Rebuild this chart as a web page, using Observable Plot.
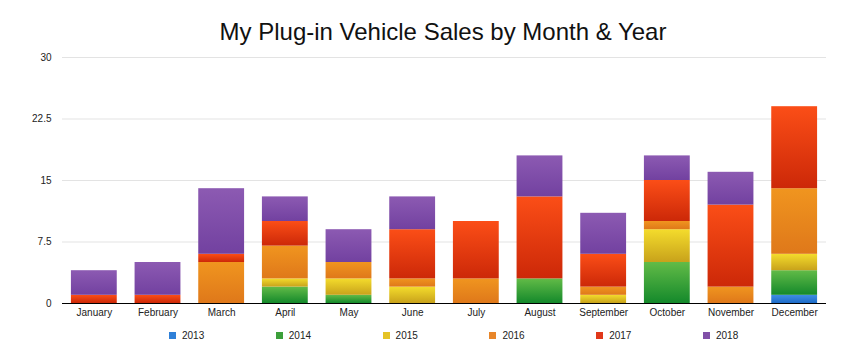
<!DOCTYPE html>
<html>
<head>
<meta charset="utf-8">
<script src="https://cdn.jsdelivr.net/npm/d3@7"></script>
<script src="https://cdn.jsdelivr.net/npm/@observablehq/plot@0.6"></script>
<style>
  html, body { margin: 0; padding: 0; background: #fff; }
  #wrap { position: relative; width: 842px; height: 360px; font-family: "Liberation Sans", Arial, Helvetica, sans-serif; }
  #title { position: absolute; left: 0; top: 17px; width: 886px; text-align: center; font-size: 24px; color: #111; line-height: 30px; }
  #chart { position: absolute; left: 0; top: 50px; }
  #legend { position: absolute; left: 0; top: 328px; width: 842px; height: 16px; }
  .li { position: absolute; top: 0; font-size: 10px; color: #222; line-height: 16px; }
  .sw { position: absolute; left: 0; top: 4px; width: 7px; height: 7px; }
  .lt { position: absolute; left: 13px; top: 0; }
</style>
</head>
<body>
<div id="wrap">
  <div id="title">My Plug-in Vehicle Sales by Month &amp; Year</div>
  <div id="chart"></div>
  <div id="legend"></div>
</div>
<script>
const months = ["January","February","March","April","May","June","July","August","September","October","November","December"];
const years = ["2013","2014","2015","2016","2017","2018"];
const sales2013 = [0,0,0,0,0,0,0,0,0,0,0,1];
const sales2014 = [0,0,0,2,1,0,0,3,0,5,0,3];
const sales2015 = [0,0,0,1,2,2,0,0,1,4,0,2];
const sales2016 = [0,0,5,4,2,1,3,0,1,1,2,8];
const sales2017 = [1,1,1,3,0,6,7,10,4,5,10,10];
const sales2018 = [3,4,8,3,4,4,0,5,5,3,4,0];
const yTicks = [0, 7.5, 15, 22.5, 30];

const series = [sales2013, sales2014, sales2015, sales2016, sales2017, sales2018];
const gradStops = [
  ["#3f8ee2", "#1e6cc8"],
  ["#62bb47", "#14892b"],
  ["#f4dc2c", "#c8a21b"],
  ["#f0951f", "#df781a"],
  ["#fb4e17", "#cc2808"],
  ["#8c5ab2", "#7241a0"]
];
const legendColors = ["#2f80d8", "#3c9f3a", "#e5c326", "#e8862a", "#e0381a", "#8150a8"];

const data = [];
years.forEach((yr, i) => {
  months.forEach((m, j) => data.push({month: m, year: yr, value: series[i][j]}));
});

const plot = Plot.plot({
  width: 842,
  height: 275,
  marginTop: 7,
  marginBottom: 22,
  marginLeft: 62,
  marginRight: 16,
  style: {fontFamily: '"Liberation Sans", Arial, Helvetica, sans-serif', fontSize: "10px", color: "#222"},
  x: {domain: months, paddingInner: 0.28, paddingOuter: 0.14, round: false, label: null, tickSize: 0, tickPadding: 5},
  y: {domain: [0, 30], ticks: yTicks, tickFormat: d => String(d), label: null, tickSize: 0, tickPadding: 11},
  color: {domain: years, range: years.map(y => `url(#grad${y})`)},
  marks: [
    Plot.gridY(yTicks.filter(t => t > 0), {stroke: "#e3e3e3", strokeOpacity: 1}),
    Plot.barY(data, {x: "month", y: "value", fill: "year", z: "year"}),
    Plot.ruleY([0], {stroke: "#000", strokeWidth: 1.2})
  ]
});

const defs = d3.select(plot).insert("defs", ":first-child");
years.forEach((yr, i) => {
  const g = defs.append("linearGradient").attr("id", `grad${yr}`)
    .attr("x1", 0).attr("y1", 0).attr("x2", 0).attr("y2", 1);
  g.append("stop").attr("offset", "0%").attr("stop-color", gradStops[i][0]);
  g.append("stop").attr("offset", "100%").attr("stop-color", gradStops[i][1]);
});

document.getElementById("chart").appendChild(plot);

const legend = document.getElementById("legend");
years.forEach((yr, i) => {
  const item = document.createElement("div");
  item.className = "li";
  item.style.left = (169 + i * 106.8) + "px";
  const sw = document.createElement("div");
  sw.className = "sw";
  sw.style.background = legendColors[i];
  const t = document.createElement("div");
  t.className = "lt";
  t.textContent = yr;
  item.appendChild(sw);
  item.appendChild(t);
  legend.appendChild(item);
});
</script>
</body>
</html>
